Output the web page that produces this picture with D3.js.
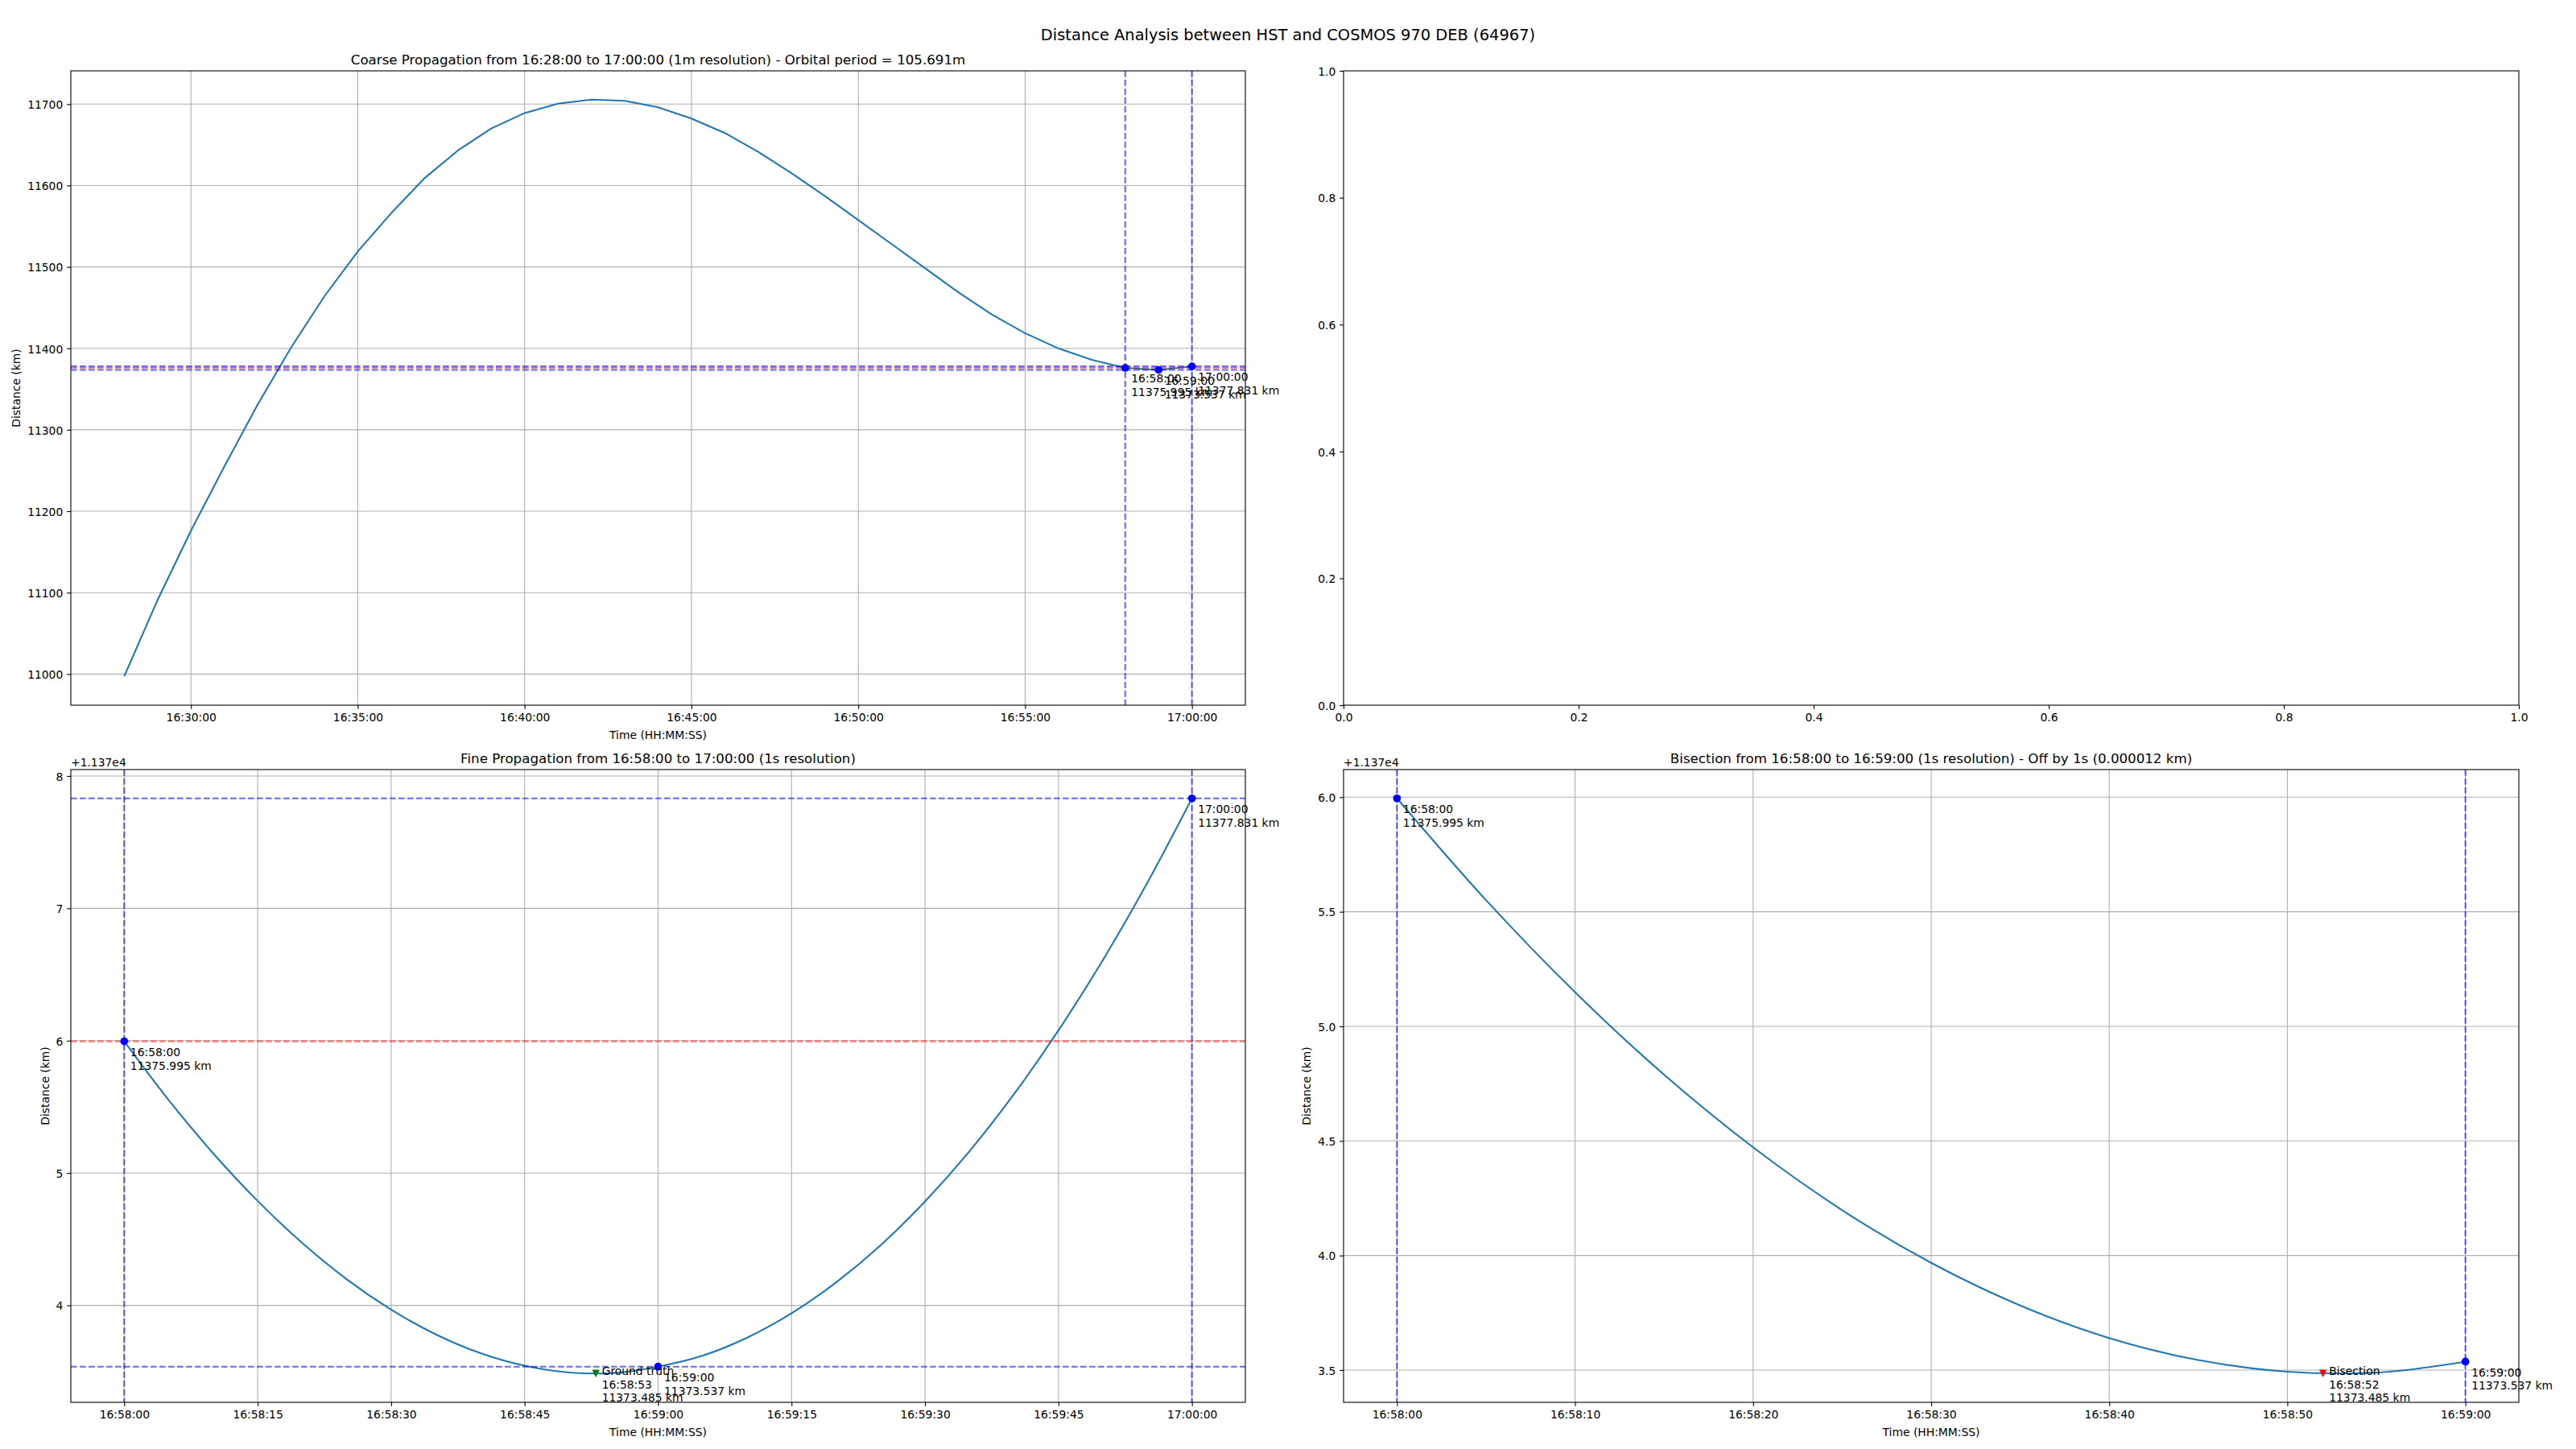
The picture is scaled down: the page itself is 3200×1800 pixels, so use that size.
<!DOCTYPE html>
<html><head><meta charset="utf-8">
<script src="https://cdn.jsdelivr.net/npm/d3@7"></script>
<style>
body{margin:0;background:#fff;}
svg{display:block;font-family:"DejaVu Sans",sans-serif;}
</style></head><body>
<svg id="c" width="3200" height="1800"></svg>
<script>
// ---------------- DATA ----------------
const suptitle = "Distance Analysis between HST and COSMOS 970 DEB (64967)";
const titleCoarse = "Coarse Propagation from 16:28:00 to 17:00:00 (1m resolution) - Orbital period = 105.691m";
const titleFine = "Fine Propagation from 16:58:00 to 17:00:00 (1s resolution)";
const titleBisect = "Bisection from 16:58:00 to 16:59:00 (1s resolution) - Off by 1s (0.000012 km)";
const xLabel = "Time (HH:MM:SS)";
const yLabel = "Distance (km)";
const offsetLabel = "+1.137e4";

const coarseTimes = ["16:28:00","16:29:00","16:30:00","16:31:00","16:32:00","16:33:00","16:34:00","16:35:00",
  "16:36:00","16:37:00","16:38:00","16:39:00","16:40:00","16:41:00","16:42:00","16:43:00","16:44:00",
  "16:45:00","16:46:00","16:47:00","16:48:00","16:49:00","16:50:00","16:51:00","16:52:00","16:53:00",
  "16:54:00","16:55:00","16:56:00","16:57:00","16:58:00","16:59:00","17:00:00"];
const coarseKm = [10997.2,11091,11176,11255,11331,11401,11464,11519,
  11566,11609,11643,11670,11689,11700.5,11705.4,11704,11696,
  11682.3,11664.5,11641.4,11615.2,11587,11557.6,11528,11498.4,11468.9,
  11441.7,11418.6,11399.9,11386,11375.995,11373.537,11377.831];

const fineTimes = ["16:58:00","16:58:05","16:58:10","16:58:15","16:58:20","16:58:25","16:58:30","16:58:35",
  "16:58:40","16:58:45","16:58:50","16:58:53","16:58:55","16:59:00","16:59:05","16:59:10","16:59:15",
  "16:59:20","16:59:25","16:59:30","16:59:35","16:59:40","16:59:45","16:59:50","16:59:55","17:00:00"];
const fineKm = [11375.995,11375.551,11375.149,11374.789,11374.472,11374.198,11373.968,11373.782,
  11373.640,11373.544,11373.493,11373.485,11373.489,11373.537,11373.620,11373.756,11373.940,
  11374.173,11374.454,11374.785,11375.165,11375.596,11376.078,11376.610,11377.195,11377.831];

const keyTimes = ["16:58:00","16:59:00","17:00:00"];
const keyKm = [11375.995,11373.537,11377.831];
const keyLabels = ["11375.995 km","11373.537 km","11377.831 km"];
const truthTime = "16:58:53", truthKm = 11373.485, truthLabel = "11373.485 km";
const bisectTime = "16:58:52", bisectKm = 11373.485, bisectLabel = "11373.485 km";

const coarseXTicks = ["16:30:00","16:35:00","16:40:00","16:45:00","16:50:00","16:55:00","17:00:00"];
const coarseYTicks = [11000,11100,11200,11300,11400,11500,11600,11700];
const fineXTicks = ["16:58:00","16:58:15","16:58:30","16:58:45","16:59:00","16:59:15","16:59:30","16:59:45","17:00:00"];
const fineYTicks = [11374,11375,11376,11377,11378];
const fineYTickLabels = ["4","5","6","7","8"];
const bisXTicks = ["16:58:00","16:58:10","16:58:20","16:58:30","16:58:40","16:58:50","16:59:00"];
const bisYTicks = [11373.5,11374,11374.5,11375,11375.5,11376];
const bisYTickLabels = ["3.5","4.0","4.5","5.0","5.5","6.0"];
const emptyTicks = [0,0.2,0.4,0.6,0.8,1.0];
const emptyTickLabels = ["0.0","0.2","0.4","0.6","0.8","1.0"];

// ---------------- HELPERS ----------------
const secs = s => { const p = s.split(":").map(Number); return p[0]*3600+p[1]*60+p[2]; };
const pad = e => { const d=(e[1]-e[0])*0.05; return [e[0]-d, e[1]+d]; };
const svg = d3.select("#c");
const FS = 13.89, TFS = 16.67;
const TICK = 4.86, TPAD = 4.86;
const BLUE = "#1f77b4";

const boxes = {
  tl:{l:88,r:1547,t:88,b:876},
  tr:{l:1669,r:3129,t:88,b:876},
  bl:{l:88,r:1547,t:956,b:1742},
  br:{l:1669,r:3129,t:956,b:1742}
};

svg.append("text").attr("x",1600).attr("y",50).attr("text-anchor","middle")
  .attr("font-size",19.44).text(suptitle);

function panel(box, cfg){
  const x = d3.scaleLinear().domain(cfg.xDomain).range([box.l, box.r]);
  const y = d3.scaleLinear().domain(cfg.yDomain).range([box.b, box.t]);
  const g = svg.append("g");
  // grid
  if (cfg.grid){
    const gg = g.append("g").attr("stroke","#b0b0b0").attr("stroke-width",1.1);
    cfg.xTicks.forEach(v=>gg.append("line").attr("x1",x(v)).attr("x2",x(v)).attr("y1",box.t).attr("y2",box.b));
    cfg.yTicks.forEach(v=>gg.append("line").attr("y1",y(v)).attr("y2",y(v)).attr("x1",box.l).attr("x2",box.r));
  }
  // axes
  const ax = g.append("g").attr("transform",`translate(0,${box.b})`)
    .call(d3.axisBottom(x).tickValues(cfg.xTicks).tickFormat((d,i)=>cfg.xTickLabels[i]).tickSize(TICK).tickPadding(TPAD).tickSizeOuter(0));
  const ay = g.append("g").attr("transform",`translate(${box.l},0)`)
    .call(d3.axisLeft(y).tickValues(cfg.yTicks).tickFormat((d,i)=>cfg.yTickLabels[i]).tickSize(TICK).tickPadding(TPAD).tickSizeOuter(0));
  [ax,ay].forEach(a=>{
    a.select(".domain").remove();
    a.selectAll("line").attr("stroke","#000").attr("stroke-width",1.1);
    a.selectAll("text").attr("font-size",FS).attr("font-family","DejaVu Sans").attr("fill","#000");
  });
  ax.selectAll("text").attr("dy","0.72em");
  ay.selectAll("text").attr("dy","0.38em");
  return {x,y,g,ay};
}

function finishPanel(p, box, cfg){
  const {g, ay} = p;
  // spines
  g.append("rect").attr("x",box.l).attr("y",box.t).attr("width",box.r-box.l).attr("height",box.b-box.t)
    .attr("fill","none").attr("stroke","#000").attr("stroke-width",1.1);
  if (cfg.title) g.append("text").attr("x",(box.l+box.r)/2).attr("y",box.t-8.33)
    .attr("text-anchor","middle").attr("font-size",TFS).text(cfg.title);
  if (cfg.xlabel) g.append("text").attr("x",(box.l+box.r)/2).attr("y",box.b+42)
    .attr("text-anchor","middle").attr("font-size",FS).text(cfg.xlabel);
  if (cfg.ylabel){
    const bb = ay.node().getBBox();
    const lx = box.l + bb.x - 8.9;
    const cy = (box.t+box.b)/2;
    g.append("text").attr("transform",`translate(${lx},${cy}) rotate(-90)`)
      .attr("text-anchor","middle").attr("font-size",FS).text(cfg.ylabel);
  }
  if (cfg.offset) g.append("text").attr("x",box.l).attr("y",box.t-4).attr("font-size",FS).text(cfg.offset);
}

function hline(p, box, v, color, op){
  p.g.append("line").attr("x1",box.l).attr("x2",box.r).attr("y1",p.y(v)).attr("y2",p.y(v))
    .attr("stroke",color).attr("stroke-opacity",op).attr("stroke-width",2.08).attr("stroke-dasharray","7.7,3.3");
}
function vline(p, box, v, color, op){
  p.g.append("line").attr("y1",box.t).attr("y2",box.b).attr("x1",p.x(v)).attr("x2",p.x(v))
    .attr("stroke",color).attr("stroke-opacity",op).attr("stroke-width",2.08).attr("stroke-dasharray","7.7,3.3");
}
function dot(p, xv, yv){
  p.g.append("circle").attr("cx",p.x(xv)).attr("cy",p.y(yv)).attr("r",4.85).attr("fill","#0000ff");
}
function tri(p, xv, yv, color){
  const cx=p.x(xv), cy=p.y(yv), s=4.7;
  p.g.append("path").attr("d",`M${cx-s},${cy-s}L${cx+s},${cy-s}L${cx},${cy+s}Z`).attr("fill",color);
}
function annot(p, xv, yv, lines){
  const cx=p.x(xv)+7.5, cy=p.y(yv);
  const n = lines.length;
  const t = p.g.append("text").attr("font-size",FS);
  lines.forEach((s,i)=>t.append("tspan").attr("x",cx).attr("y",cy+35-(n-1-i)*16.7).text(s));
}
function curve(p, times, vals, c){
  const pts = times.map((t,i)=>[secs(t), vals[i]]);
  p.g.append("path").datum(pts)
    .attr("d", d3.line().x(d=>p.x(d[0])).y(d=>p.y(d[1])).curve(c))
    .attr("fill","none").attr("stroke",BLUE).attr("stroke-width",2.08).attr("stroke-linejoin","round");
}

// ---------------- TOP LEFT: coarse ----------------
{
  const box = boxes.tl;
  const cfg = {
    xDomain: pad(d3.extent(coarseTimes.map(secs))),
    yDomain: pad(d3.extent(coarseKm)),
    xTicks: coarseXTicks.map(secs), xTickLabels: coarseXTicks,
    yTicks: coarseYTicks, yTickLabels: coarseYTicks.map(String),
    grid: true, title: titleCoarse, xlabel: xLabel, ylabel: yLabel
  };
  const p = panel(box, cfg);
  curve(p, coarseTimes, coarseKm, d3.curveLinear);
  vline(p, box, secs(keyTimes[0]), "#0000ff", 0.6);
  vline(p, box, secs(keyTimes[2]), "#0000ff", 0.6);
  hline(p, box, keyKm[2], "#0000ff", 0.6);
  hline(p, box, keyKm[1], "#0000ff", 0.6);
  hline(p, box, keyKm[0], "#ff0000", 0.5);
  keyTimes.forEach((t,i)=>{ dot(p, secs(t), keyKm[i]); });
  keyTimes.forEach((t,i)=>{ annot(p, secs(t), keyKm[i], [t, keyLabels[i]]); });
  finishPanel(p, box, cfg);
}

// ---------------- TOP RIGHT: empty ----------------
{
  const box = boxes.tr;
  const cfg = {
    xDomain:[0,1], yDomain:[0,1],
    xTicks: emptyTicks, xTickLabels: emptyTickLabels,
    yTicks: emptyTicks, yTickLabels: emptyTickLabels, grid:false
  };
  const p = panel(box, cfg);
  finishPanel(p, box, cfg);
}

// ---------------- BOTTOM LEFT: fine ----------------
{
  const box = boxes.bl;
  const yAll = fineKm.concat(keyKm).concat([truthKm]);
  const cfg = {
    xDomain: pad(d3.extent(fineTimes.map(secs))),
    yDomain: pad(d3.extent(yAll)),
    xTicks: fineXTicks.map(secs), xTickLabels: fineXTicks,
    yTicks: fineYTicks, yTickLabels: fineYTickLabels,
    grid: true, title: titleFine, xlabel: xLabel, ylabel: yLabel, offset: offsetLabel
  };
  const p = panel(box, cfg);
  curve(p, fineTimes, fineKm, d3.curveMonotoneX);
  vline(p, box, secs(keyTimes[0]), "#0000ff", 0.6);
  vline(p, box, secs(keyTimes[2]), "#0000ff", 0.6);
  hline(p, box, keyKm[2], "#0000ff", 0.6);
  hline(p, box, keyKm[1], "#0000ff", 0.6);
  hline(p, box, keyKm[0], "#ff0000", 0.5);
  keyTimes.forEach((t,i)=>dot(p, secs(t), keyKm[i]));
  tri(p, secs(truthTime), truthKm, "#008000");
  keyTimes.forEach((t,i)=>annot(p, secs(t), keyKm[i], [t, keyLabels[i]]));
  annot(p, secs(truthTime), truthKm, ["Ground truth", truthTime, truthLabel]);
  finishPanel(p, box, cfg);
}

// ---------------- BOTTOM RIGHT: bisection ----------------
{
  const box = boxes.br;
  const lo = secs(keyTimes[0]), hi = secs(keyTimes[1]);
  const idx = fineTimes.map((t,i)=>i).filter(i=>secs(fineTimes[i])>=lo && secs(fineTimes[i])<=hi);
  const bt = idx.map(i=>fineTimes[i]), bv = idx.map(i=>fineKm[i]);
  const cfg = {
    xDomain: pad([lo,hi]),
    yDomain: pad(d3.extent(bv.concat([bisectKm]))),
    xTicks: bisXTicks.map(secs), xTickLabels: bisXTicks,
    yTicks: bisYTicks, yTickLabels: bisYTickLabels,
    grid: true, title: titleBisect, xlabel: xLabel, ylabel: yLabel, offset: offsetLabel
  };
  const p = panel(box, cfg);
  curve(p, bt, bv, d3.curveMonotoneX);
  vline(p, box, lo, "#0000ff", 0.6);
  vline(p, box, hi, "#0000ff", 0.6);
  dot(p, lo, keyKm[0]);
  dot(p, hi, keyKm[1]);
  tri(p, secs(bisectTime), bisectKm, "#ff0000");
  annot(p, lo, keyKm[0], [keyTimes[0], keyLabels[0]]);
  annot(p, hi, keyKm[1], [keyTimes[1], keyLabels[1]]);
  annot(p, secs(bisectTime), bisectKm, ["Bisection", bisectTime, bisectLabel]);
  finishPanel(p, box, cfg);
}
</script>
</body></html>
